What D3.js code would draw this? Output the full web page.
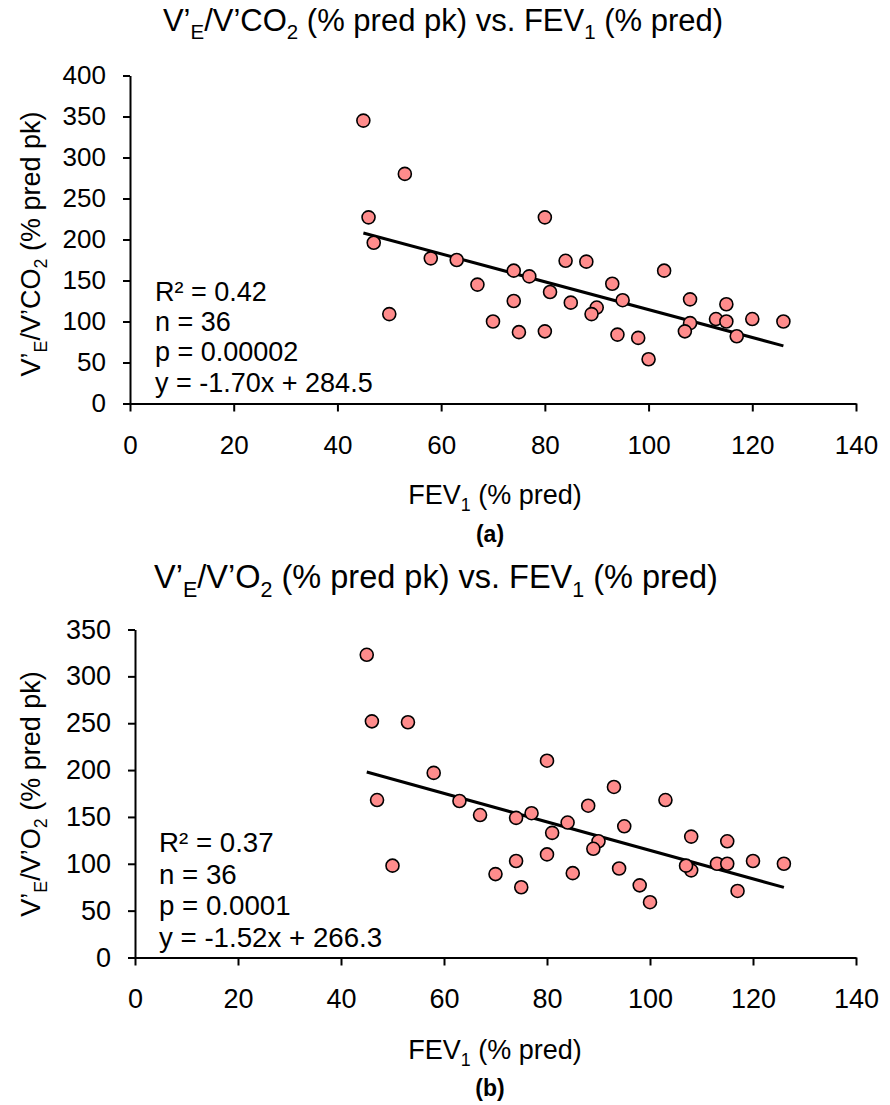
<!DOCTYPE html>
<html>
<head>
<meta charset="utf-8">
<script src="https://cdn.jsdelivr.net/npm/d3@7"></script>
<style>
  body { margin: 0; background: #fff; }
  svg { font-family: "Liberation Sans", Arial, sans-serif; }
</style>
</head>
<body>
<svg id="chart" width="890" height="1105"></svg>
<script>
// FEV1 (% pred) for the 36 subjects, same order in both panels
const fev1 = [45, 53, 46, 47, 58, 63, 67, 50, 70, 80, 74, 77, 84, 88, 81, 74, 85, 90,
              89, 93, 95, 75, 80, 94, 98, 100, 103, 108, 108, 107, 113, 115, 115, 117, 120, 126];
// V'E/V'CO2 (% pred pk)
const veVco2 = [345, 280, 227, 196, 177, 175, 145, 109, 100, 227, 162, 155, 174, 173, 136, 125, 123, 117,
                109, 146, 126, 87, 88, 84, 80, 54, 162, 127, 98, 88, 103, 121, 100, 82, 103, 100];
// V'E/V'O2 (% pred pk)
const veVo2 = [323, 251, 252, 168, 197, 167, 152, 98, 89, 210, 149, 154, 144, 162, 133, 103, 90, 124,
               116, 182, 140, 75, 110, 95, 77, 59, 168, 129, 93, 98, 100, 124, 100, 71, 103, 100];

const xTicks = [0, 20, 40, 60, 80, 100, 120, 140];
const yTicksA = [0, 50, 100, 150, 200, 250, 300, 350, 400];
const yTicksB = [0, 50, 100, 150, 200, 250, 300, 350];

// regression lines as printed on the chart
const fitA = { slope: -1.70, intercept: 284.5 };
const fitB = { slope: -1.52, intercept: 266.3 };
const statsA = ["R² = 0.42", "n = 36", "p = 0.00002", "y = -1.70x + 284.5"];
const statsB = ["R² = 0.37", "n = 36", "p = 0.0001", "y = -1.52x + 266.3"];

const svg = d3.select("#chart");

// write text made of [string, isSubscript] parts
function rich(sel, parts, size) {
    sel.attr("font-size", size);
    let shift = 0;
    parts.forEach(([t, sub]) => {
        const target = sub ? size * 0.27 : 0;
        sel.append("tspan")
            .attr("font-size", sub ? size * 0.66 : size)
            .attr("dy", target - shift)
            .text(t);
        shift = target;
    });
}

function panel(p) {
    const x = d3.scaleLinear().domain([0, 140]).range(p.xRange);
    const y = d3.scaleLinear().domain([0, p.yMax]).range(p.yRange);
    const g = svg.append("g");

    // title
    rich(g.append("text").attr("x", p.titleX).attr("y", p.titleY).attr("text-anchor", "middle"),
        p.title, p.titleSize);

    // axes
    const xAxis = g.append("g")
        .attr("transform", `translate(0,${p.yRange[0]})`)
        .call(d3.axisBottom(x).tickValues(xTicks).tickSize(8).tickSizeOuter(0));
    xAxis.selectAll(".tick text").attr("y", 50).attr("dy", 0);
    const yAxis = g.append("g")
        .attr("transform", `translate(${p.xRange[0]},0)`)
        .call(d3.axisLeft(y).tickValues(p.yTicks).tickSize(7).tickSizeOuter(0).tickPadding(17));
    [xAxis, yAxis].forEach(a => {
        a.select(".domain").attr("stroke", "#000").attr("stroke-width", 2);
        a.selectAll(".tick line").attr("stroke", "#000").attr("stroke-width", 2);
        a.selectAll(".tick text").attr("font-size", p.tickSize).attr("fill", "#000")
            .attr("font-family", "Liberation Sans, Arial, sans-serif");
    });

    // axis titles
    rich(g.append("text").attr("x", p.xLabelX).attr("y", p.xLabelY).attr("text-anchor", "middle"),
        [["FEV", 0], ["1", 1], [" (% pred)", 0]], 27);
    rich(g.append("text")
            .attr("transform", `translate(${p.yLabelX},${p.yLabelY}) rotate(-90)`)
            .attr("text-anchor", "middle"),
        p.yLabel, 27);
    g.append("text").attr("x", p.xLabelX - 5).attr("y", p.panelY)
        .attr("text-anchor", "middle").attr("font-size", 23).attr("font-weight", "bold")
        .text(p.panelLabel);

    // stats block
    g.append("g").selectAll("text").data(p.stats).join("text")
        .attr("x", p.statsX)
        .attr("y", (d, i) => p.statsY + i * p.statsGap)
        .attr("font-size", p.statsSize)
        .text(d => d);

    // trend line across the observed range
    const [lo, hi] = d3.extent(fev1);
    g.append("line")
        .attr("x1", x(lo)).attr("y1", y(p.fit.slope * lo + p.fit.intercept))
        .attr("x2", x(hi)).attr("y2", y(p.fit.slope * hi + p.fit.intercept))
        .attr("stroke", "#000").attr("stroke-width", 3);

    // points
    g.append("g").selectAll("circle").data(fev1).join("circle")
        .attr("cx", d => x(d))
        .attr("cy", (d, i) => y(p.values[i]))
        .attr("r", 6.5)
        .attr("fill", "#ff8c8c")
        .attr("stroke", "#000")
        .attr("stroke-width", 1.6);
}

panel({
    values: veVco2, fit: fitA, stats: statsA, yMax: 400, yTicks: yTicksA,
    xRange: [130, 856], yRange: [403.5, 75.5],
    title: [["V’", 0], ["E", 1], ["/V’CO", 0], ["2", 1], [" (% pred pk) vs. FEV", 0], ["1", 1], [" (% pred)", 0]],
    titleX: 443, titleY: 31, titleSize: 31, tickSize: 26,
    yLabel: [["V’", 0], ["E", 1], ["/V’CO", 0], ["2", 1], [" (% pred pk)", 0]],
    yLabelX: 40, yLabelY: 244,
    xLabelX: 495, xLabelY: 504, panelLabel: "(a)", panelY: 542,
    statsX: 155, statsY: 301, statsGap: 30.2, statsSize: 27
});

panel({
    values: veVo2, fit: fitB, stats: statsB, yMax: 350, yTicks: yTicksB,
    xRange: [135, 856], yRange: [957.5, 629.5],
    title: [["V’", 0], ["E", 1], ["/V’O", 0], ["2", 1], [" (% pred pk) vs. FEV", 0], ["1", 1], [" (% pred)", 0]],
    titleX: 436, titleY: 588, titleSize: 32.5, tickSize: 27,
    yLabel: [["V’", 0], ["E", 1], ["/V’O", 0], ["2", 1], [" (% pred pk)", 0]],
    yLabelX: 40, yLabelY: 794,
    xLabelX: 495, xLabelY: 1059, panelLabel: "(b)", panelY: 1096,
    statsX: 159, statsY: 852, statsGap: 31.5, statsSize: 27.7
});
</script>
</body>
</html>
